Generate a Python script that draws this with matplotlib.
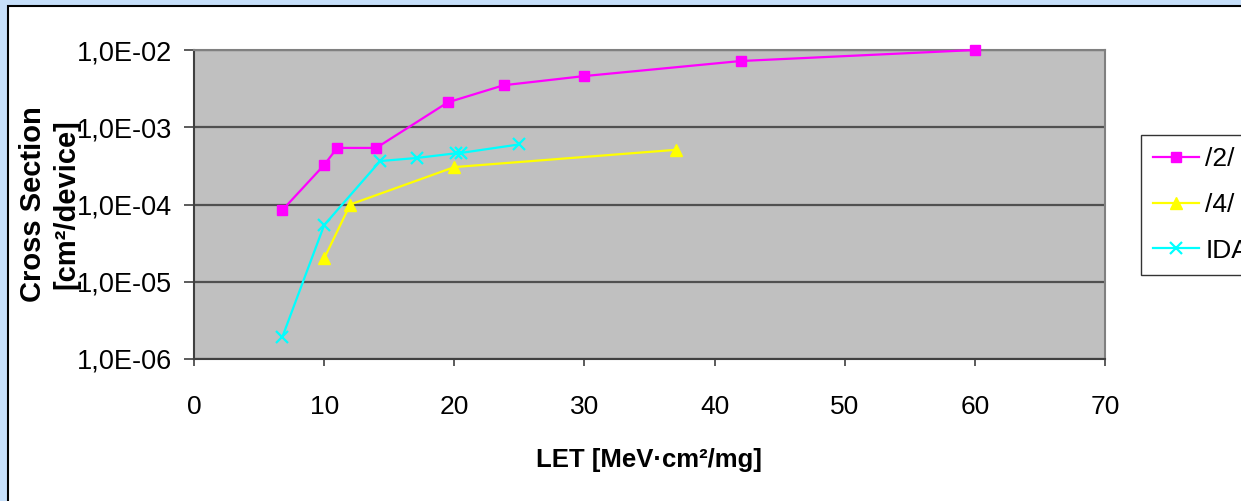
import matplotlib
matplotlib.use("Agg")
import matplotlib.pyplot as plt
from matplotlib.patches import Rectangle

W, H = 1241, 501

# Data
x_ref2 = [6.8, 10, 11, 14, 19.5, 23.8, 30, 42, 60]
y_ref2 = [8.5e-5, 3.25e-4, 5.4e-4, 5.4e-4, 2.1e-3, 3.5e-3, 4.6e-3, 7.2e-3, 1.0e-2]

x_ref4 = [10, 12, 20, 37]
y_ref4 = [2.0e-5, 1.0e-4, 3.05e-4, 5.1e-4]

x_ida = [6.8, 10, 14.3, 17.1, 20.1, 20.5, 25]
y_ida = [1.95e-6, 5.4e-5, 3.65e-4, 4.0e-4, 4.6e-4, 4.65e-4, 6.0e-4]

y_ticks = [1e-6, 1e-5, 1e-4, 1e-3, 1e-2]
y_ticklabels = ["1,0E-06", "1,0E-05", "1,0E-04", "1,0E-03", "1,0E-02"]
x_ticks = [0, 10, 20, 30, 40, 50, 60, 70]

series_labels = ["/2/", "/4/", "IDA"]

plt.rcParams['font.family'] = ['Liberation Sans', 'DejaVu Sans']

fig = plt.figure(figsize=(W / 100, H / 100), dpi=100)
fig.patch.set_facecolor('#C6DFFA')

# white chart panel with black border
panel = Rectangle((8 / W, 1 - 6 / H), (W + 20) / W, -(H + 20) / H,
                  transform=fig.transFigure, facecolor='white',
                  edgecolor='black', linewidth=1.5, zorder=-10)
fig.patches.append(panel)

ax = fig.add_axes([194 / W, 1 - 359 / H, (1105 - 194) / W, (359 - 50) / H])
ax.set_zorder(1)
ax.set_facecolor('#C0C0C0')
ax.set_yscale('log')
ax.set_xlim(0, 70)
ax.set_ylim(1e-6, 1e-2)

for y in y_ticks:
    ax.axhline(y, color='#505050', linewidth=1.6, zorder=1)

l1, = ax.plot(x_ref2, y_ref2, color='#FF00FF', marker='s', markersize=7.5,
              linewidth=1.6, label=series_labels[0], zorder=3, clip_on=False)
l2, = ax.plot(x_ref4, y_ref4, color='#FFFF00', marker='^', markersize=9,
              linewidth=1.6, label=series_labels[1], zorder=3, clip_on=False)
l3, = ax.plot(x_ida, y_ida, color='#00FFFF', marker='x', markersize=9,
              markeredgewidth=1.6, linewidth=1.6, label=series_labels[2],
              zorder=3, clip_on=False)

ax.set_yticks(y_ticks)
ax.set_yticklabels(y_ticklabels)
ax.yaxis.set_minor_locator(matplotlib.ticker.NullLocator())
ax.set_xticks(x_ticks)
ax.set_xticklabels([str(v) for v in x_ticks])

ax.tick_params(axis='y', direction='out', length=7, width=1.2, color='#404040',
               labelsize=19.5, pad=9)
ax.tick_params(axis='x', direction='out', length=5, width=1.2, color='#404040',
               labelsize=19, pad=21)

for side in ['top', 'right']:
    ax.spines[side].set_color('#808080')
    ax.spines[side].set_linewidth(1.5)
for side in ['left', 'bottom']:
    ax.spines[side].set_color('#404040')
    ax.spines[side].set_linewidth(1.5)

fig.text(649 / W, 1 - 460 / H, "LET [MeV·cm²/mg]", fontsize=18.5,
         fontweight='bold', ha='center', va='center')
fig.text(33 / W, 1 - 204 / H, "Cross Section", fontsize=21,
         fontweight='bold', ha='center', va='center', rotation=90)
fig.text(66 / W, 1 - 204 / H, "[cm²/device]", fontsize=21,
         fontweight='bold', ha='center', va='center', rotation=90)

leg = fig.legend(handles=[l1, l2, l3], loc='upper left',
                 bbox_to_anchor=(1141 / W, 1 - 135.5 / H),
                 frameon=True, fancybox=False, fontsize=19,
                 handlelength=1.75, handletextpad=0.23, labelspacing=0.82,
                 borderpad=0.45, borderaxespad=0)
leg.set_zorder(5)
leg.get_frame().set_edgecolor('black')
leg.get_frame().set_linewidth(1.0)
leg.get_frame().set_facecolor('white')

fig.savefig('out.png', dpi=100, facecolor=fig.get_facecolor())
